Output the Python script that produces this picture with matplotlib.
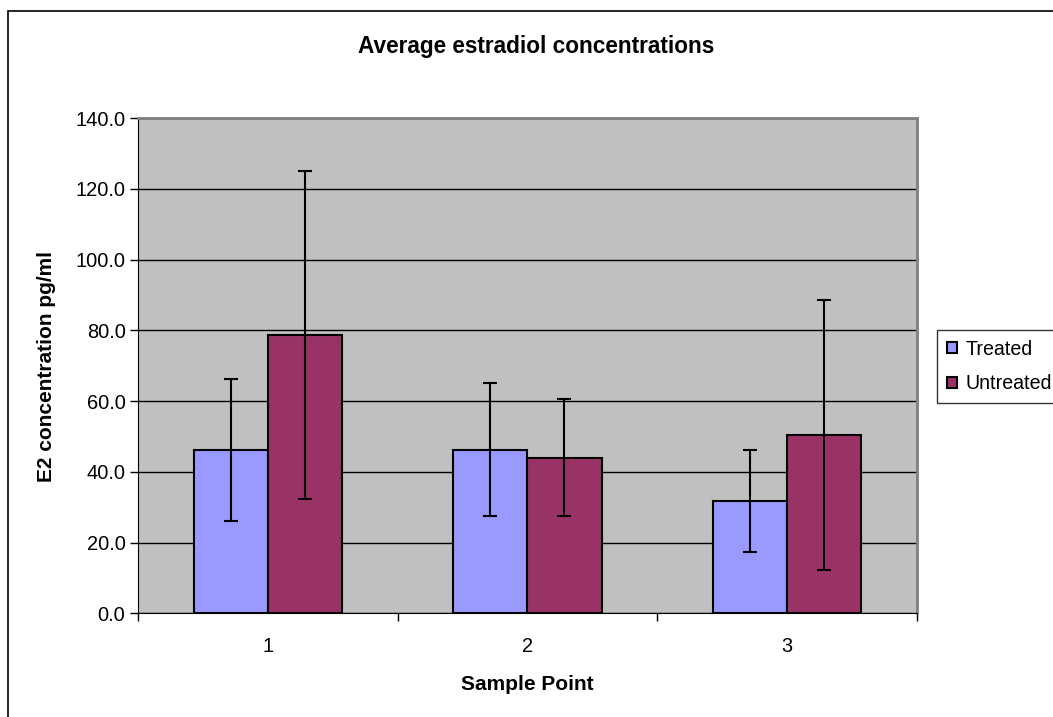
import matplotlib.pyplot as plt
import matplotlib.patches as mpatches
import numpy as np

#---------Data--------------------------------
samples = ['1', '2', '3']
treated = [46.2, 46.2, 31.8]
treated_err = [20.0, 18.8, 14.4]
untreated = [78.6, 44.0, 50.4]
untreated_err = [46.4, 16.5, 38.2]
y_ticks = [0, 20, 40, 60, 80, 100, 120, 140]
#---------------------------------------------

plt.rcParams['font.family'] = ['Liberation Sans', 'DejaVu Sans']

fig = plt.figure(figsize=(10.53, 7.17), dpi=100)

# outer chart frame (cut off at right and bottom like the original)
frame = mpatches.Rectangle((8/1053, -0.05), 1.2, 1 - 11/717 + 0.05,
                           transform=fig.transFigure, fill=False,
                           edgecolor='black', linewidth=1.2)
fig.patches.append(frame)

ax = fig.add_axes([138/1053, 1 - 613.3/717, (916.7-138)/1053, (613.3-118)/717])
ax.set_facecolor('#C0C0C0')

x = np.arange(len(samples))
w = 1/3.5
ekw = dict(ecolor='black', elinewidth=1.5, capsize=5, capthick=1.5)
ax.bar(x - w/2, treated, w, yerr=treated_err, color='#9999FF', edgecolor='black',
       linewidth=1.5, label='Treated', error_kw=ekw, zorder=3)
ax.bar(x + w/2, untreated, w, yerr=untreated_err, color='#993366', edgecolor='black',
       linewidth=1.5, label='Untreated', error_kw=ekw, zorder=3)

ax.set_xlim(-0.5, 2.5)
ax.set_ylim(0, 140)
ax.set_yticks(y_ticks)
ax.set_yticklabels([f'{v:.1f}' for v in y_ticks])
ax.set_xticks(x)
ax.set_xticklabels(samples)
ax.set_xticks([-0.5, 0.5, 1.5, 2.5], minor=True)
ax.tick_params(axis='x', which='major', length=0, pad=17, labelsize=14.4)
ax.tick_params(axis='x', which='minor', length=6, direction='out', width=1)
ax.tick_params(axis='y', length=6, direction='out', width=1, labelsize=14.4, pad=3)

ax.yaxis.grid(True, color='black', linewidth=1, zorder=1)
ax.set_axisbelow(True)

for s in ['top', 'right']:
    ax.spines[s].set_color('#808080')
    ax.spines[s].set_linewidth(2)
ax.spines['left'].set_color('black')
ax.spines['bottom'].set_color('black')

fig.text(527/1053, 1 - 684/717, 'Sample Point', ha='center', va='center',
         fontsize=15, fontweight='bold')
fig.text(47/1053, 1 - 367/717, 'E2 concentration pg/ml', ha='center', va='center',
         rotation=90, fontsize=15, fontweight='bold')
fig.text(536/1053, 1 - 47/717, 'Average estradiol concentrations', ha='center', va='center',
         fontsize=16.3, fontweight='bold')

leg = fig.legend(loc='upper left', bbox_to_anchor=(937/1053, 1 - 330/717),
                 fontsize=14.1, frameon=True, fancybox=False, edgecolor='black',
                 handlelength=0.5, handleheight=0.5, handletextpad=0.45,
                 borderpad=0.5, labelspacing=0.8, borderaxespad=0)
leg.get_frame().set_linewidth(1)

plt.savefig('out.png', dpi=100)
plt.close()
